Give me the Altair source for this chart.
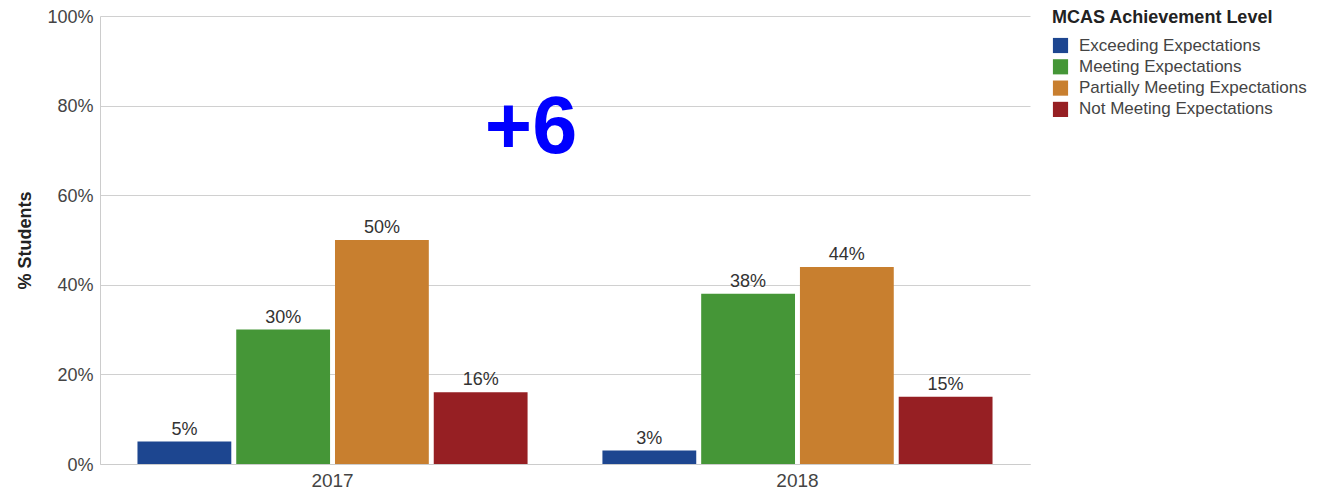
import altair as alt
import pandas as pd

years = ["2017", "2018"]
levels = [
    "Exceeding Expectations",
    "Meeting Expectations",
    "Partially Meeting Expectations",
    "Not Meeting Expectations",
]
values_2017 = [5, 30, 50, 16]
values_2018 = [3, 38, 44, 15]
colors = ["#1d4690", "#459637", "#c87f2f", "#961f23"]
annotation = ["+6"]

rows = []
for yr, vals in zip(years, [values_2017, values_2018]):
    for lv, v in zip(levels, vals):
        rows.append({"year": yr, "level": lv, "value": v, "label": f"{v}%"})
df = pd.DataFrame(rows)

FONT = "Liberation Sans"

base = alt.Chart(df).encode(
    x=alt.X(
        "year:N",
        sort=years,
        scale=alt.Scale(paddingInner=0.161, paddingOuter=0.0806),
        axis=alt.Axis(
            title=None, labelAngle=0, ticks=False, labelPadding=7,
            labelFontSize=19, labelColor="#444444", labelFont=FONT,
            domainColor="#cccccc", grid=False,
        ),
    ),
    xOffset=alt.XOffset(
        "level:N", sort=levels,
        scale=alt.Scale(paddingInner=0.05, paddingOuter=0),
    ),
    y=alt.Y(
        "value:Q",
        scale=alt.Scale(domain=[0, 100]),
        axis=alt.Axis(
            title="% Students", values=[0, 20, 40, 60, 80, 100],
            labelExpr="datum.value + '%'", ticks=False, labelPadding=7,
            labelOffset=1,
            labelFontSize=18, labelColor="#444444", labelFont=FONT,
            titleFontSize=18, titleFont=FONT, titleFontWeight="bold",
            titleColor="#222222", titlePadding=12,
            domainColor="#cccccc", gridColor="#d0d0d0",
        ),
    ),
)

bars = base.mark_bar().encode(
    color=alt.Color(
        "level:N", sort=levels,
        scale=alt.Scale(domain=levels, range=colors),
        legend=alt.Legend(
            title="MCAS Achievement Level", orient="none",
            legendX=952, legendY=-7, padding=0,
            titleFontSize=18, titleFont=FONT, titleFontWeight="bold",
            titleColor="#222222", titlePadding=10, titleLimit=0,
            labelFontSize=17, labelFont=FONT, labelColor="#444444",
            labelLimit=0,
            symbolType="square", symbolSize=230, symbolStrokeWidth=0,
            symbolOpacity=1, rowPadding=3.3, labelOffset=10,
        ),
    )
)

texts = base.mark_text(
    baseline="bottom", dy=-3, fontSize=18, font=FONT, color="#333333"
).encode(text="label:N")

ann = alt.Chart(pd.DataFrame({"t": annotation})).mark_text(
    fontSize=81, fontWeight="bold", font=FONT, color="#0000ff",
    align="center", baseline="alphabetic",
).encode(text="t:N", x=alt.value(431), y=alt.value(137))

chart = (
    alt.layer(bars, texts, ann)
    .properties(
        width=930, height=448,
        autosize=alt.AutoSizeParams(type="none"),
        padding={"left": 92, "top": 8, "right": 296, "bottom": 29},
    )
    .configure_view(stroke=None)
)

chart.save("out.html", embed_options={"renderer": "svg", "actions": False})
